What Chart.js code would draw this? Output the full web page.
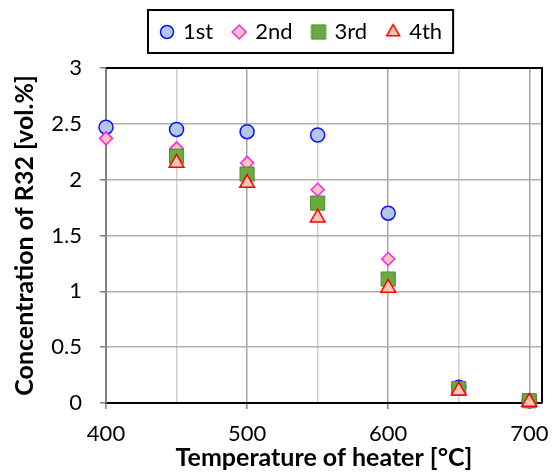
<!DOCTYPE html>
<html>
<head>
<meta charset="utf-8">
<script src="https://cdn.jsdelivr.net/npm/chart.js@4"></script>
<style>
  html, body { margin: 0; padding: 0; background: #fff; }
  #wrap { width: 553px; height: 473px; }
</style>
</head>
<body>
<div id="wrap"><canvas id="chart"></canvas></div>
<script>
// heater temperature [°C]
const temps = [400, 450, 500, 550, 600, 650, 700];

// R32 concentration [vol.%] for each run
const run1 = [2.47, 2.45, 2.43, 2.40, 1.70, 0.14, 0.02];
const run2 = [2.37, 2.28, 2.15, 1.91, 1.29, 0.13, 0.02];
const run3 = [null, 2.21, 2.05, 1.79, 1.11, 0.13, 0.02];
const run4 = [null, 2.15, 1.97, 1.66, 1.03, 0.11, 0.01];

const runNames = ["1st", "2nd", "3rd", "4th"];
const yTicks = [0, 0.5, 1, 1.5, 2, 2.5, 3];

const FONT = "Lato, 'Liberation Sans', sans-serif";

const styles = [
  { pointStyle: "circle", radius: 7, legendRadius: 6.5, fill: "#b4c7e7", stroke: "#1010ff", lw: 1.5 },
  { pointStyle: "rectRot", radius: 6.5, legendRadius: 7, fill: "#f8c8b4", stroke: "#ff20ff", lw: 1.5 },
  { pointStyle: "rect", radius: 10, legendRadius: 10, fill: "#6aaa40", stroke: "#4f8a2b", lw: 1 },
  { pointStyle: "triangle", radius: 8.5, legendRadius: 7.5, fill: "#f8c4b4", stroke: "#ff0000", lw: 1.5 },
];

const toPoints = (vals) =>
  temps.map((t, i) => ({ x: t, y: vals[i] })).filter((p) => p.y !== null);

// small canvases used as legend symbols
function legendIcon(s) {
  const c = document.createElement("canvas");
  c.width = 20;
  c.height = 20;
  const ctx = c.getContext("2d");
  ctx.fillStyle = s.fill;
  ctx.strokeStyle = s.stroke;
  ctx.lineWidth = s.lw;
  Chart.helpers.drawPoint(ctx, { pointStyle: s.pointStyle, radius: s.legendRadius, borderWidth: s.lw }, 10, 10);
  return c;
}
const icons = styles.map(legendIcon);

// black frame on top/right + box around legend
const framePlugin = {
  id: "frame",
  beforeInit(chart) {
    const legend = chart.legend;
    const fit = legend.fit;
    legend.fit = function () {
      fit.bind(legend)();
      this.height = 68;
    };
  },
  afterLayout(chart) {
    chart.legend.left = 141;
  },
  beforeDatasetsDraw(chart) {
    const { ctx, chartArea: a } = chart;
    ctx.save();
    ctx.strokeStyle = "#000";
    ctx.lineWidth = 2;
    ctx.beginPath();
    ctx.moveTo(a.left, a.top);
    ctx.lineTo(a.right, a.top);
    ctx.lineTo(a.right, a.bottom);
    ctx.stroke();
    ctx.restore();
  },
  afterDraw(chart) {
    const boxes = chart.legend.legendHitBoxes;
    if (!boxes || !boxes.length) return;
    const left = Math.min(...boxes.map((b) => b.left)) - 14;
    const right = Math.max(...boxes.map((b) => b.left + b.width)) + 11;
    const { ctx } = chart;
    ctx.save();
    ctx.strokeStyle = "#000";
    ctx.lineWidth = 2;
    ctx.strokeRect(left, 10, right - left, 43);
    ctx.restore();
  },
};

new Chart(document.getElementById("chart"), {
  type: "scatter",
  data: {
    datasets: [run1, run2, run3, run4].map((vals, i) => ({
      label: runNames[i],
      data: toPoints(vals),
      pointStyle: styles[i].pointStyle,
      pointRadius: styles[i].radius,
      backgroundColor: styles[i].fill,
      borderColor: styles[i].stroke,
      borderWidth: styles[i].lw,
      order: 4 - i,
    })),
  },
  options: {
    responsive: true,
    maintainAspectRatio: false,
    animation: false,
    layout: { padding: { top: 0, left: 0, right: 9, bottom: 0 } },
    datasets: { scatter: { clip: false } },
    plugins: {
      tooltip: { enabled: false },
      legend: {
        position: "top",
        align: "start",
        labels: {
          usePointStyle: true,
          boxWidth: 10,
          boxHeight: 10,
          padding: 21,
          color: "#000",
          font: { family: FONT, size: 22 },
          sort: (a, b) => a.datasetIndex - b.datasetIndex,
          generateLabels: (chart) =>
            Chart.defaults.plugins.legend.labels.generateLabels(chart).map((item) => {
              item.pointStyle = icons[item.datasetIndex];
              return item;
            }),
        },
      },
    },
    scales: {
      x: {
        type: "linear",
        min: 400,
        max: 709,
        afterFit: (s) => {
          s.height = 70;
          s.paddingLeft = 0;
          s.paddingRight = 0;
        },
        ticks: {
          stepSize: 50,
          includeBounds: false,
          autoSkip: false,
          maxRotation: 0,
          padding: 12,
          color: "#000",
          font: { family: FONT, size: 22 },
          callback: (v) => (v % 100 === 0 ? v : ""),
        },
        grid: {
          color: (c) => (c.tick && c.tick.value % 100 === 0 ? "#a6a6a6" : "#d0d0d0"),
          tickColor: (c) => (c.tick && c.tick.value % 100 === 0 ? "#808080" : "rgba(0,0,0,0)"),
          tickLength: 6,
          lineWidth: 1.5,
        },
        border: { color: "#000", width: 2 },
        title: {
          display: true,
          text: "Temperature of heater [°C]",
          color: "#000",
          font: { family: FONT, size: 25, weight: "bold" },
          padding: { top: 0, bottom: 0 },
        },
      },
      y: {
        min: 0,
        max: 3,
        afterFit: (s) => { s.width = 106; },
        afterBuildTicks: (s) => { s.ticks = yTicks.map((v) => ({ value: v })); },
        ticks: {
          padding: 18,
          color: "#000",
          font: { family: FONT, size: 22 },
          callback: (v) => String(v),
        },
        grid: {
          color: "#b0b0b0",
          tickColor: "#808080",
          tickLength: 6,
          lineWidth: 1.5,
        },
        border: { color: "#808080", width: 2 },
        title: {
          display: true,
          text: "Concentration of R32 [vol.%]",
          color: "#000",
          font: { family: FONT, size: 25, weight: "bold" },
          padding: { top: 10, bottom: 0 },
        },
      },
    },
  },
  plugins: [framePlugin],
});
</script>
</body>
</html>
